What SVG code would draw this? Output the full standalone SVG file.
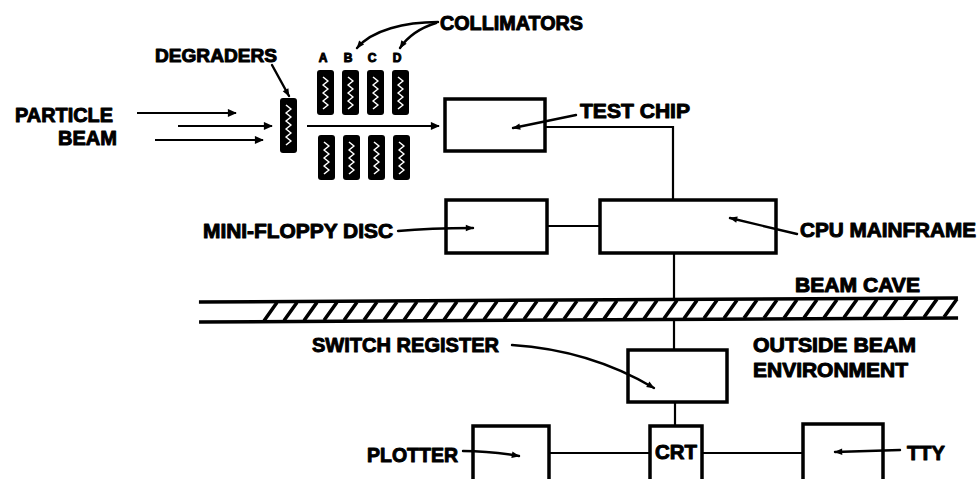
<svg xmlns="http://www.w3.org/2000/svg" xmlns:xlink="http://www.w3.org/1999/xlink" width="980" height="479" viewBox="0 0 980 479">
<style>
.t{font-family:"Liberation Sans",Arial,sans-serif;font-weight:bold;fill:#000;stroke:#000;stroke-width:1;stroke-linejoin:round;}
.box{fill:none;stroke:#000;stroke-width:3.5;}
.ln{fill:none;stroke:#000;stroke-width:2.2;}
.ld{fill:none;stroke:#000;stroke-width:2.4;stroke-linecap:round;}
.rib{fill:none;stroke:#fff;stroke-width:1.6;stroke-linejoin:round;}
</style>
<defs>
<marker id="ah" viewBox="0 0 10 10" refX="9" refY="5" markerWidth="11" markerHeight="8" markerUnits="userSpaceOnUse" orient="auto"><path d="M0,1 L10,5 L0,9 z" fill="#000"/></marker>
<marker id="ahb" viewBox="0 0 10 10" refX="9" refY="5" markerWidth="13" markerHeight="9" markerUnits="userSpaceOnUse" orient="auto"><path d="M0,0.5 L10,5 L0,9.5 z" fill="#000"/></marker>
<g id="col"><rect x="0" y="0" width="17" height="45" rx="3" fill="#000"/><polyline class="rib" points="6,7 11,11 6,15 11,19 6,23 11,27 6,31 11,35 6,39"/></g>
</defs>
<rect width="980" height="479" fill="#fff"/>

<g id="particle-beam">
<text class="t" x="15" y="122" font-size="21" textLength="98" lengthAdjust="spacingAndGlyphs">PARTICLE</text>
<text class="t" x="58" y="145" font-size="21" textLength="59" lengthAdjust="spacingAndGlyphs">BEAM</text>
</g>

<g id="degraders">
<text class="t" x="155" y="62" font-size="19" textLength="122" lengthAdjust="spacingAndGlyphs">DEGRADERS</text>
<rect x="280" y="98" width="17" height="55" rx="3" fill="#000"/>
<polyline class="rib" points="286,105 291,109 286,113 291,117 286,121 291,125 286,129 291,133 286,137 291,141 286,145"/>
</g>

<g id="collimators">
<text class="t" x="440" y="30" font-size="20" textLength="143" lengthAdjust="spacingAndGlyphs">COLLIMATORS</text>
<text class="t" x="323" y="62" font-size="12" text-anchor="middle">A</text>
<text class="t" x="348" y="62" font-size="12" text-anchor="middle">B</text>
<text class="t" x="372" y="62" font-size="12" text-anchor="middle">C</text>
<text class="t" x="397" y="62" font-size="12" text-anchor="middle">D</text>
<use xlink:href="#col" x="317" y="70"/>
<use xlink:href="#col" x="342" y="70"/>
<use xlink:href="#col" x="367" y="70"/>
<use xlink:href="#col" x="392" y="70"/>
<use xlink:href="#col" x="318" y="135"/>
<use xlink:href="#col" x="343" y="135"/>
<use xlink:href="#col" x="368" y="135"/>
<use xlink:href="#col" x="393" y="135"/>
</g>

<g id="test-chip">
<rect class="box" x="445" y="99" width="100" height="52"/>
<text class="t" x="580" y="118" font-size="21" textLength="110" lengthAdjust="spacingAndGlyphs">TEST CHIP</text>
</g>

<g id="mini-floppy-disc">
<rect class="box" x="446" y="200" width="101" height="53"/>
<text class="t" x="203" y="238" font-size="21" textLength="190" lengthAdjust="spacingAndGlyphs">MINI-FLOPPY DISC</text>
</g>

<g id="cpu-mainframe">
<rect class="box" x="600" y="200" width="176" height="53"/>
<text class="t" x="800" y="237" font-size="21" textLength="176" lengthAdjust="spacingAndGlyphs">CPU MAINFRAME</text>
</g>

<g id="beam-cave">
<text class="t" x="795" y="292" font-size="20" textLength="125" lengthAdjust="spacingAndGlyphs">BEAM CAVE</text>
<g transform="rotate(-0.3 578 310)">
<line x1="199" y1="300" x2="958" y2="300" stroke="#000" stroke-width="3.5"/>
<line x1="199" y1="320" x2="958" y2="320" stroke="#000" stroke-width="3.5"/>
<path d="M264,319l13,-18M284,319l13,-18M304,319l13,-18M324,319l13,-18M344,319l13,-18M364,319l13,-18M384,319l13,-18M404,319l13,-18M424,319l13,-18M444,319l13,-18M464,319l13,-18M484,319l13,-18M504,319l13,-18M524,319l13,-18M544,319l13,-18M564,319l13,-18M584,319l13,-18M604,319l13,-18M624,319l13,-18M644,319l13,-18M664,319l13,-18M684,319l13,-18M704,319l13,-18M724,319l13,-18M744,319l13,-18M764,319l13,-18M784,319l13,-18M804,319l13,-18M824,319l13,-18M844,319l13,-18M864,319l13,-18M884,319l13,-18M904,319l13,-18M924,319l13,-18M944,319l13,-18" stroke="#000" stroke-width="3.5" fill="none"/>
</g>
</g>

<g id="switch-register">
<rect class="box" x="628" y="350" width="99" height="52"/>
<text class="t" x="312" y="352" font-size="21" textLength="187" lengthAdjust="spacingAndGlyphs">SWITCH REGISTER</text>
</g>

<g id="outside-beam-environment">
<text class="t" x="753" y="352" font-size="20" textLength="163" lengthAdjust="spacingAndGlyphs">OUTSIDE BEAM</text>
<text class="t" x="753" y="377" font-size="20" textLength="155" lengthAdjust="spacingAndGlyphs">ENVIRONMENT</text>
</g>

<g id="plotter">
<rect class="box" x="473" y="426" width="76" height="62"/>
<text class="t" x="367" y="462" font-size="21" textLength="91" lengthAdjust="spacingAndGlyphs">PLOTTER</text>
</g>

<g id="crt">
<rect class="box" x="650" y="426" width="52" height="62"/>
<text class="t" x="655" y="459" font-size="21" textLength="42" lengthAdjust="spacingAndGlyphs">CRT</text>
</g>

<g id="tty">
<rect class="box" x="803" y="424" width="80" height="64"/>
<text class="t" x="907" y="460" font-size="21" textLength="38" lengthAdjust="spacingAndGlyphs">TTY</text>
</g>

<g id="connectors">
<line class="ln" x1="137" y1="113" x2="236" y2="113" marker-end="url(#ahb)"/>
<line class="ln" x1="178" y1="126" x2="272" y2="126" marker-end="url(#ahb)"/>
<line class="ln" x1="155" y1="140" x2="263" y2="140" marker-end="url(#ahb)"/>
<line class="ln" x1="307" y1="126" x2="439" y2="126" marker-end="url(#ahb)"/>
<path class="ld" d="M438,22 C405,22 372,30 357,48" stroke-width="3" marker-end="url(#ah)"/>
<path class="ld" d="M436,23 C420,28 408,36 400,48" stroke-width="3" marker-end="url(#ah)"/>
<path class="ld" d="M272,65 L289,96" marker-end="url(#ah)"/>
<path class="ld" d="M576,115 L513,128" marker-end="url(#ah)"/>
<path class="ld" d="M398,231 Q430,228 473,228" marker-end="url(#ah)"/>
<path class="ld" d="M797,234 L730,218" marker-end="url(#ah)"/>
<path class="ld" d="M512,345 Q590,350 654,388" marker-end="url(#ah)"/>
<path class="ld" d="M463,451 Q490,451 519,456" marker-end="url(#ah)"/>
<path class="ld" d="M900,450 L835,452" marker-end="url(#ah)"/>
<path class="ln" d="M546,127 H673 V200"/>
<path class="ln" d="M547,226 H600"/>
<path class="ln" d="M674,253 V299"/>
<path class="ln" d="M674,321 V350"/>
<path class="ln" d="M675,402 V426"/>
<path class="ln" d="M549,453 H650"/>
<path class="ln" d="M702,453 H803"/>
</g>
</svg>
